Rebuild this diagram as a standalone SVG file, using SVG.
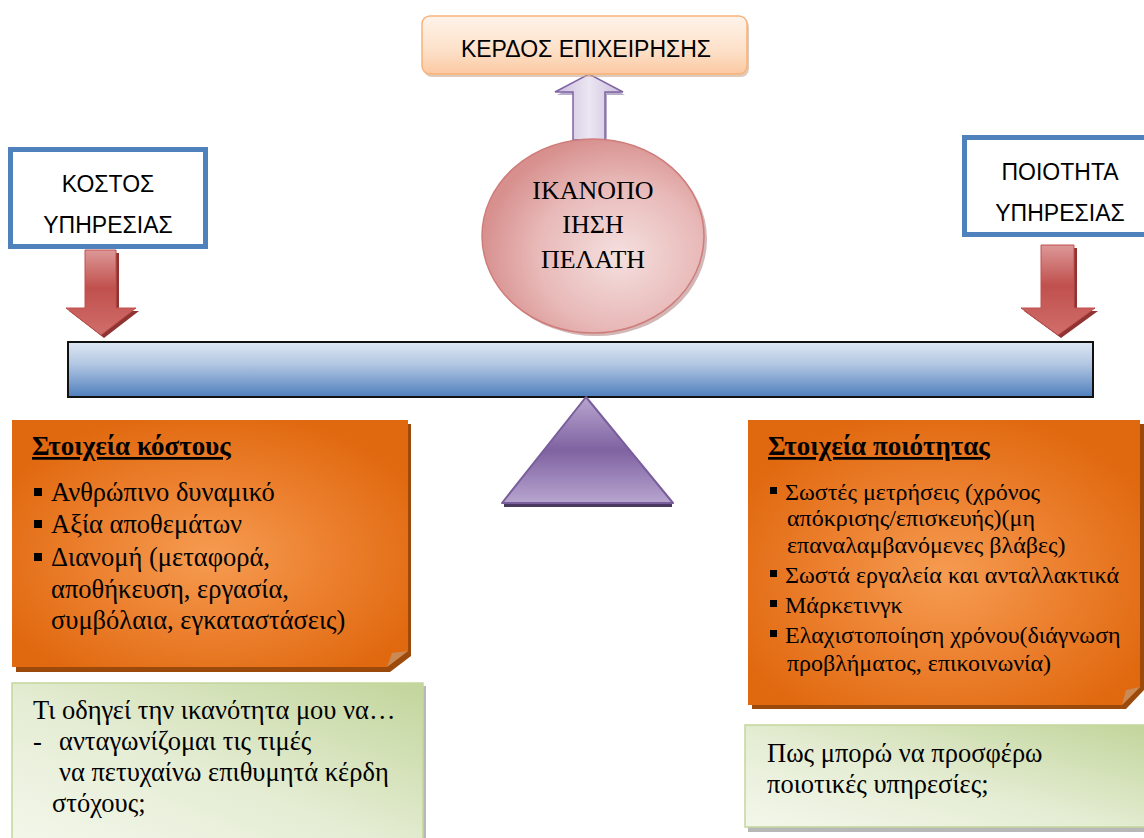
<svg xmlns="http://www.w3.org/2000/svg" width="1144" height="838" viewBox="0 0 1144 838">
<style>
.sans{font-family:"Liberation Sans",Arial,sans-serif;fill:#000}
.serif{font-family:"Liberation Serif","Times New Roman",serif;fill:#000}
.blue{fill:#fff;stroke:#4f81bd;stroke-width:5}
.title{font-weight:bold;text-decoration:underline}
</style>
<defs>
<linearGradient id="gPeach" x1="0" y1="0" x2="0" y2="1">
<stop offset="0" stop-color="#fef3ea"/><stop offset="0.6" stop-color="#fde0c8"/><stop offset="1" stop-color="#fbc9a2"/>
</linearGradient>
<linearGradient id="gLav" x1="0" y1="0" x2="1" y2="0">
<stop offset="0" stop-color="#c9bcdc"/><stop offset="0.5" stop-color="#ebe6f2"/><stop offset="1" stop-color="#c9bcdc"/>
</linearGradient>
<radialGradient id="gPink" cx="0.62" cy="0.6" r="0.62">
<stop offset="0" stop-color="#f4e0df"/><stop offset="0.6" stop-color="#e8b9b8"/><stop offset="1" stop-color="#d7908e"/>
</radialGradient>
<linearGradient id="gRed" x1="0" y1="0" x2="0" y2="1">
<stop offset="0" stop-color="#dc9897"/><stop offset="0.45" stop-color="#c0504d"/><stop offset="1" stop-color="#d06e6b"/>
</linearGradient>
<linearGradient id="gBar" x1="0" y1="0" x2="0" y2="1">
<stop offset="0" stop-color="#dde7f3"/><stop offset="0.4" stop-color="#b3c7e3"/><stop offset="1" stop-color="#4f7fbd"/>
</linearGradient>
<linearGradient id="gTri" x1="0" y1="0" x2="0" y2="1">
<stop offset="0" stop-color="#b8a6cf"/><stop offset="0.5" stop-color="#7f62a1"/><stop offset="1" stop-color="#b7a5cf"/>
</linearGradient>
<radialGradient id="gOrange" cx="0.5" cy="0.55" r="0.6">
<stop offset="0" stop-color="#f69c52"/><stop offset="0.55" stop-color="#eb7e2c"/><stop offset="1" stop-color="#e0680e"/>
</radialGradient>
<linearGradient id="gGreen" x1="0" y1="1" x2="1" y2="0">
<stop offset="0" stop-color="#f3f7eb"/><stop offset="0.45" stop-color="#e5edd4"/><stop offset="1" stop-color="#c2d59b"/>
</linearGradient>
</defs>

<rect width="1144" height="838" fill="#fff"/>

<g id="connectors">
  <path d="M575,143 V95 H557 L591,77 L625,95 H607 V143 Z" fill="#8a78a6" opacity="0.6"/>
  <path d="M573,140 V92 H555 L589,74 L623,92 H605 V140 Z" fill="url(#gLav)" stroke="#8064a2" stroke-width="1.5"/>
  <path d="M88,253 V311 H69 L104,338 L139,311 H119 V253 Z" fill="#8f3432"/>
  <path d="M85,250 V308 H66 L101,335 L136,308 H116 V250 Z" fill="url(#gRed)" stroke="#c0504d" stroke-width="1"/>
  <path d="M1044,248 V311 H1024 L1061,338 L1098,311 H1077 V248 Z" fill="#8f3432"/>
  <path d="M1041,245 V308 H1021 L1058,335 L1095,308 H1074 V245 Z" fill="url(#gRed)" stroke="#c0504d" stroke-width="1"/>
</g>

<g id="profit">
  <rect x="424" y="19" width="325" height="58" rx="8" fill="#c9a88f" opacity="0.6"/>
  <rect x="422" y="16" width="325" height="58" rx="8" fill="url(#gPeach)" stroke="#f9b27a" stroke-width="1.5"/>
  <text class="sans" x="586" y="57" font-size="23" text-anchor="middle">ΚΕΡΔΟΣ ΕΠΙΧΕΙΡΗΣΗΣ</text>
</g>

<g id="satisfaction">
  <ellipse cx="596" cy="239" rx="111" ry="97" fill="#a86e6d" opacity="0.5"/>
  <ellipse cx="593" cy="236" rx="111" ry="97" fill="url(#gPink)" stroke="#cf7c7a" stroke-width="1.5"/>
  <text class="serif" x="593" y="199" font-size="26" text-anchor="middle">ΙΚΑΝΟΠΟ</text>
  <text class="serif" x="593" y="233" font-size="26" text-anchor="middle">ΙΗΣΗ</text>
  <text class="serif" x="593" y="268" font-size="26" text-anchor="middle">ΠΕΛΑΤΗ</text>
</g>

<g id="cost">
  <rect class="blue" x="10.5" y="149.5" width="195" height="97"/>
  <text class="sans" x="108" y="192" font-size="23" text-anchor="middle">ΚΟΣΤΟΣ</text>
  <text class="sans" x="108" y="233" font-size="23" text-anchor="middle">ΥΠΗΡΕΣΙΑΣ</text>
</g>

<g id="quality">
  <rect class="blue" x="964.5" y="137.5" width="195" height="97"/>
  <text class="sans" x="1060" y="180" font-size="23" text-anchor="middle">ΠΟΙΟΤΗΤΑ</text>
  <text class="sans" x="1060" y="221" font-size="23" text-anchor="middle">ΥΠΗΡΕΣΙΑΣ</text>
</g>

<g id="beam">
  <rect x="68" y="342" width="1025" height="55" fill="url(#gBar)" stroke="#111" stroke-width="2"/>
</g>

<g id="fulcrum">
  <rect x="504" y="502" width="168" height="5" fill="#4a3a60"/>
  <path d="M586,397 L673,503 L502,503 Z" fill="url(#gTri)" stroke="#7a5e9c" stroke-width="2" stroke-linejoin="round"/>
</g>

<g id="cost-elements">
  <path d="M16,424 H411 V656 L390,672 H16 Z" fill="#9c4a0c"/>
  <path d="M12,420 H408 V651 L387,667 H12 Z" fill="url(#gOrange)"/>
  <path d="M387,667 L408,651 L392,653 Z" fill="#c98a55"/>
  <text class="serif title" x="32" y="455" font-size="27">Στοιχεία κόστους</text>
  <rect x="34" y="488" width="8" height="8" fill="#000"/>
  <rect x="34" y="520" width="8" height="8" fill="#000"/>
  <rect x="34" y="553" width="8" height="8" fill="#000"/>
  <text class="serif" x="51" y="501" font-size="26.5">Ανθρώπινο δυναμικό</text>
  <text class="serif" x="51" y="533" font-size="26.5">Αξία αποθεμάτων</text>
  <text class="serif" x="51" y="566" font-size="26.5">Διανομή (μεταφορά,</text>
  <text class="serif" x="51" y="598" font-size="26.5">αποθήκευση, εργασία,</text>
  <text class="serif" x="51" y="629" font-size="26.5">συμβόλαια, εγκαταστάσεις)</text>
</g>

<g id="quality-elements">
  <path d="M752,424 H1144 V690 L1126,709 H752 Z" fill="#9c4a0c"/>
  <path d="M748,420 H1140 V687 L1122,705 H748 Z" fill="url(#gOrange)"/>
  <path d="M1122,705 L1140,687 L1126,690 Z" fill="#c98a55"/>
  <text class="serif title" x="768" y="455" font-size="27">Στοιχεία ποιότητας</text>
  <rect x="770" y="487" width="7" height="7" fill="#000"/>
  <rect x="770" y="570" width="7" height="7" fill="#000"/>
  <rect x="770" y="600" width="7" height="7" fill="#000"/>
  <rect x="770" y="630" width="7" height="7" fill="#000"/>
  <text class="serif" x="785" y="500" font-size="24">Σωστές μετρήσεις (χρόνος</text>
  <text class="serif" x="787" y="526" font-size="24">απόκρισης/επισκευής)(μη</text>
  <text class="serif" x="787" y="553" font-size="24">επαναλαμβανόμενες βλάβες)</text>
  <text class="serif" x="785" y="583" font-size="24">Σωστά εργαλεία και ανταλλακτικά</text>
  <text class="serif" x="785" y="613" font-size="24">Μάρκετινγκ</text>
  <text class="serif" x="785" y="643" font-size="24">Ελαχιστοποίηση χρόνου(διάγνωση</text>
  <text class="serif" x="787" y="671" font-size="24">προβλήματος, επικοινωνία)</text>
</g>

<g id="cost-question">
  <rect x="15" y="686" width="411" height="160" fill="#9a9a9a" opacity="0.7"/>
  <rect x="12" y="683" width="411" height="160" fill="url(#gGreen)" stroke="#c3d69b" stroke-width="1.5"/>
  <text class="serif" x="33" y="719" font-size="26.5">Τι οδηγεί την ικανότητα μου να…</text>
  <text class="serif" x="33" y="750" font-size="26.5">-</text>
  <text class="serif" x="59" y="750" font-size="26.5">ανταγωνίζομαι τις τιμές</text>
  <text class="serif" x="59" y="781" font-size="26.5">να πετυχαίνω επιθυμητά κέρδη</text>
  <text class="serif" x="52" y="812" font-size="26.5">στόχους;</text>
</g>

<g id="quality-question">
  <rect x="748" y="728" width="400" height="104" fill="#9a9a9a" opacity="0.7"/>
  <rect x="745" y="725" width="402" height="102" fill="url(#gGreen)" stroke="#c3d69b" stroke-width="1.5"/>
  <text class="serif" x="767" y="762" font-size="26.5">Πως μπορώ να προσφέρω</text>
  <text class="serif" x="767" y="793" font-size="26.5">ποιοτικές υπηρεσίες;</text>
</g>
</svg>
